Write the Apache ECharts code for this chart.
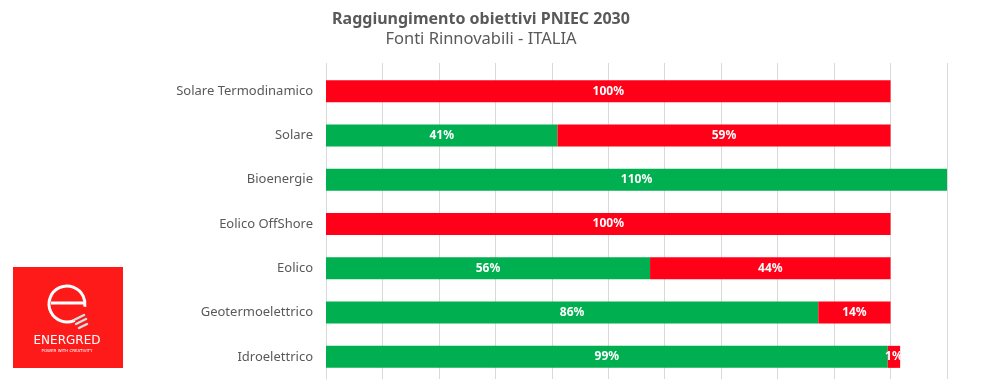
<!DOCTYPE html>
<html>
<head>
<meta charset="utf-8">
<script src="https://cdn.jsdelivr.net/npm/echarts@6/dist/echarts.min.js"></script>
<style>html,body{margin:0;padding:0;background:#fff;}#c{width:982px;height:381px;}</style>
</head>
<body>
<div id="c"></div>
<script>
// Categories, top to bottom
const categories = ['Solare Termodinamico', 'Solare', 'Bioenergie', 'Eolico OffShore', 'Eolico', 'Geotermoelettrico', 'Idroelettrico'];
// Bar lengths (% of target)
const achieved = [0, 41, 110, 0, 57.4, 87.2, 99.5];
const remaining = [100, 59, 0, 100, 42.6, 12.8, 2.2];
// Printed data labels
const achievedLabels = ['', '41%', '110%', '', '56%', '86%', '99%'];
const remainingLabels = ['100%', '59%', '', '100%', '44%', '14%', '1%'];
const xTicks = [0, 10, 20, 30, 40, 50, 60, 70, 80, 90, 100, 110];

const GREEN = '#00B050';
const RED = '#FF0018';
const GRID = '#D9D9D9';
const FONT = 'Noto Sans';

const chart = echarts.init(document.getElementById('c'), null, {renderer: 'canvas'});

const labelStyle = {
  show: true, position: 'inside', color: '#fff', fontWeight: 'bold',
  fontSize: 12, fontFamily: FONT
};

chart.setOption({
  animation: false,
  backgroundColor: '#fff',
  grid: [
    {left: 326, right: 35, top: 69, height: 310, containLabel: false},
    {left: 326, right: 35, top: 63, height: 6, containLabel: false}
  ],
  xAxis: [
    {type: 'value', gridIndex: 0, min: xTicks[0], max: xTicks[xTicks.length - 1], interval: 10,
     axisLabel: {show: false}, axisLine: {show: false}, axisTick: {show: false},
     splitLine: {show: true, lineStyle: {color: GRID, width: 1}}},
    {type: 'value', gridIndex: 1, min: xTicks[0], max: xTicks[xTicks.length - 1], interval: 10,
     axisLabel: {show: false}, axisLine: {show: false}, axisTick: {show: false},
     splitLine: {show: true, lineStyle: {color: GRID, width: 1}}}
  ],
  yAxis: [
    {type: 'category', gridIndex: 0, data: categories, inverse: true,
     axisLine: {show: true, lineStyle: {color: GRID, width: 1}},
     axisTick: {show: false},
     axisLabel: {color: '#595959', fontSize: 13, fontFamily: FONT, margin: 13}},
    {type: 'value', gridIndex: 1, show: false}
  ],
  series: [
    {name: 'Raggiunto', type: 'bar', stack: 'tot', xAxisIndex: 0, yAxisIndex: 0,
     data: achieved, barWidth: 22, itemStyle: {color: GREEN},
     label: Object.assign({}, labelStyle, {formatter: p => achievedLabels[p.dataIndex]})},
    {name: 'Mancante', type: 'bar', stack: 'tot', xAxisIndex: 0, yAxisIndex: 0,
     data: remaining, barWidth: 22, itemStyle: {color: RED},
     label: Object.assign({}, labelStyle, {formatter: p => remainingLabels[p.dataIndex]})}
  ],
  graphic: [
    {type: 'text', x: 481, y: 19, style: {text: 'Raggiungimento obiettivi PNIEC 2030', fill: '#595959',
      font: 'bold 16px "Noto Sans"', textAlign: 'center', textVerticalAlign: 'middle'}},
    {type: 'text', x: 481, y: 39, style: {text: 'Fonti Rinnovabili - ITALIA', fill: '#595959',
      font: '16.5px "Noto Sans"', textAlign: 'center', textVerticalAlign: 'middle'}},
    // Logo
    {type: 'group', children: [
      {type: 'rect', shape: {x: 13, y: 267, width: 110, height: 101}, style: {fill: '#FF1A1A'}},
      {type: 'arc', shape: {cx: 67, cy: 304, r: 18, startAngle: Math.PI * 0.36, endAngle: Math.PI * 2.05},
       style: {stroke: '#fff', lineWidth: 3, fill: null}},
      {type: 'line', shape: {x1: 51, y1: 303, x2: 85, y2: 303}, style: {stroke: '#fff', lineWidth: 3}},
      {type: 'line', shape: {x1: 74, y1: 320, x2: 84, y2: 315}, style: {stroke: '#CFE0E0', lineWidth: 2.5, lineCap: 'round'}},
      {type: 'line', shape: {x1: 76, y1: 324, x2: 86, y2: 319}, style: {stroke: '#CFE0E0', lineWidth: 2.5, lineCap: 'round'}},
      {type: 'line', shape: {x1: 79, y1: 328, x2: 87, y2: 324}, style: {stroke: '#CFE0E0', lineWidth: 2.5, lineCap: 'round'}},
      {type: 'text', x: 67, y: 341, style: {text: 'ENERGRED', fill: '#fff', font: '12px "DejaVu Sans"',
        textAlign: 'center', textVerticalAlign: 'middle'}},
      {type: 'text', x: 67, y: 351, style: {text: 'POWER WITH CREATIVITY', fill: '#fff', font: '4px "DejaVu Sans"',
        textAlign: 'center', textVerticalAlign: 'middle'}}
    ]}
  ]
});
</script>
</body>
</html>
